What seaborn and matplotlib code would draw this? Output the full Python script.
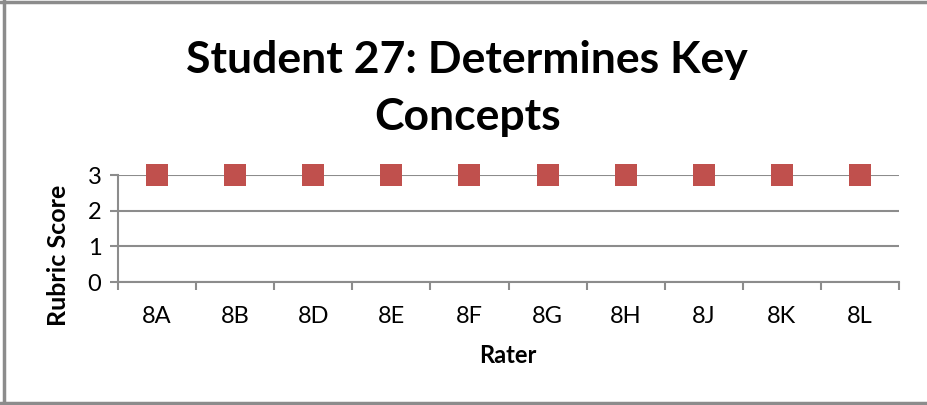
import pandas as pd
import matplotlib
matplotlib.use("Agg")
import matplotlib.pyplot as plt
import seaborn as sns
from matplotlib.lines import Line2D

raters = ["8A", "8B", "8D", "8E", "8F", "8G", "8H", "8J", "8K", "8L"]
scores = [3, 3, 3, 3, 3, 3, 3, 3, 3, 3]
y_ticks = [0, 1, 2, 3]

GRAY = "#8c8c8c"
RED = "#c0504d"

sns.set_style("white")
plt.rcParams["font.family"] = ["Lato", "DejaVu Sans"]
plt.rcParams["text.color"] = "black"

df = pd.DataFrame({"Rater": raters, "Rubric Score": scores})

fig = plt.figure(figsize=(9.27, 4.05), dpi=100)
ax = fig.add_axes([0.1273, 0.3037, 0.8425, 0.2642])

sns.scatterplot(data=df, x="Rater", y="Rubric Score", marker="s", s=230,
                color=RED, edgecolor=RED, linewidth=0, ax=ax, zorder=3)

ax.set_xlim(-0.5, len(raters) - 0.5)
ax.set_ylim(0, 3)
ax.set_yticks(y_ticks)
ax.set_xticks(range(len(raters)))
ax.set_xticks([i - 0.5 for i in range(len(raters) + 1)], minor=True)
ax.set_xticklabels(raters)
for c in ax.collections:
    c.set_clip_on(False)

ax.grid(axis="y", color=GRAY, linewidth=1.5)
ax.grid(axis="x", visible=False)
for side in ["top", "right"]:
    ax.spines[side].set_visible(False)
for side in ["left", "bottom"]:
    ax.spines[side].set_color(GRAY)
    ax.spines[side].set_linewidth(1.5)

ax.tick_params(axis="y", which="major", left=True, length=6, width=1.5,
               color=GRAY, labelsize=17, labelcolor="black", pad=6)
ax.tick_params(axis="x", which="major", bottom=False, labelsize=17,
               labelcolor="black", pad=14)
ax.tick_params(axis="x", which="minor", bottom=True, length=6, width=1.5,
               color=GRAY)

ax.set_xlabel("")
ax.set_ylabel("")
fig.text(0.548, 0.123, "Rater", ha="center", va="center", fontsize=17,
         fontweight="bold")
fig.text(0.063, 0.37, "Rubric Score", ha="center", va="center", fontsize=18,
         fontweight="bold", rotation=90)

fig.text(0.504, 0.782, "Student 27: Determines Key\nConcepts", ha="center",
         va="center", fontsize=32, fontweight="bold", linespacing=1.5)

# outer chart border (top, left, bottom)
for xs, ys in [([0, 1], [0.996, 0.996]), ([0.004, 0.004], [0, 1]),
               ([0, 1], [0.005, 0.005])]:
    fig.add_artist(Line2D(xs, ys, transform=fig.transFigure, color=GRAY,
                          linewidth=2.5))

fig.savefig("out.png", dpi=100)
